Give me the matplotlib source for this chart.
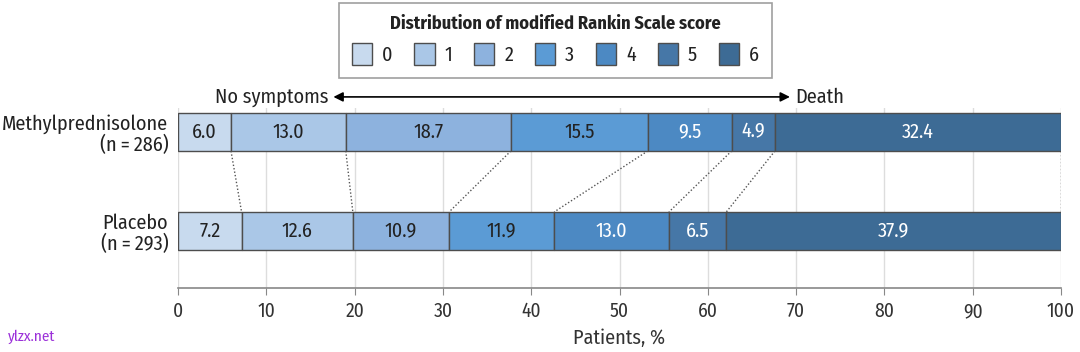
import matplotlib
matplotlib.use("Agg")
import matplotlib.pyplot as plt
import numpy as np

plt.rcParams['font.family'] = ['Fira Sans Condensed', 'DejaVu Sans']

groups = ["Methylprednisolone\n(n\u2009=\u2009286)", "Placebo\n(n\u2009=\u2009293)"]
scores = ["0", "1", "2", "3", "4", "5", "6"]
methyl = [6.0, 13.0, 18.7, 15.5, 9.5, 4.9, 32.4]
placebo = [7.2, 12.6, 10.9, 11.9, 13.0, 6.5, 37.9]
xticks = [0, 10, 20, 30, 40, 50, 60, 70, 80, 90, 100]

colors = ["#c8daee", "#aac7e7", "#8db2de", "#5b9bd5", "#4c89c3", "#4677a7", "#3d6b95"]
text_colors = ["#222222"] * 4 + ["white"] * 3

fig = plt.figure(figsize=(10.8, 3.52), dpi=100)
ax = fig.add_axes([178/1080, 1-288/352, (1061-178)/1080, (288-108)/352])

ypos = [1, 0]
h = 0.384
data = np.array([methyl, placebo])
left = np.zeros(2)
handles = []
for i, s in enumerate(scores):
    bars = ax.barh(ypos, data[:, i], left=left, height=h, color=colors[i],
                   edgecolor="#4d4d4d", linewidth=1.0, label=s, zorder=3)
    ax.bar_label(bars, labels=[f"{v:.1f}" for v in data[:, i]], label_type="center",
                 color=text_colors[i], fontsize=14.5)
    handles.append(bars)
    left = left + data[:, i]

cm = np.cumsum(methyl)
cp = np.cumsum(placebo)
for a, b in zip(cm, cp):
    ax.plot([a, b], [1 - h/2, h/2], ls=(0, (1, 1.5)), color="#555555", lw=1.0, zorder=2)

ax.set_xlim(0, 100)
ax.set_ylim(-0.576, 1.242)
ax.set_xticks(xticks)
ax.set_xticklabels([str(t) for t in xticks], fontsize=14, color="#333333")
ax.set_yticks(ypos)
ax.set_yticklabels(groups, fontsize=14.5, color="#222222", linespacing=1.05)
ax.tick_params(axis="y", length=0, pad=7)
ax.tick_params(axis="x", direction="out", length=5, color="#888888", pad=5)
for sp in ["top", "right", "left"]:
    ax.spines[sp].set_visible(False)
ax.spines["bottom"].set_color("#888888")
ax.spines["bottom"].set_linewidth(1.2)
ax.grid(axis="x", color="#dddddd", lw=1.0, zorder=0)
ax.set_axisbelow(True)
ax.set_xlabel("Patients, %", fontsize=14.5, color="#333333", labelpad=5)

# direction arrow
ax.annotate("", xy=(69.3, 1.354), xytext=(17.6, 1.354),
            arrowprops=dict(arrowstyle="<|-|>", color="black", lw=1.2,
                            mutation_scale=14, shrinkA=0, shrinkB=0),
            annotation_clip=False)
ax.text(17.0, 1.354, "No symptoms", ha="right", va="center", fontsize=14.6,
        color="#222222", clip_on=False)
ax.text(69.9, 1.354, "Death", ha="left", va="center", fontsize=14.6,
        color="#222222", clip_on=False)

leg = fig.legend(handles=handles, labels=scores, ncol=7, loc="upper center",
                 bbox_to_anchor=(555.5/1080, 1-3/352), frameon=True, fancybox=False,
                 fontsize=14.5, title="Distribution of modified Rankin Scale score",
                 title_fontproperties={"size": 13.2, "weight": "bold", "family": ["Fira Sans Condensed", "DejaVu Sans"]},
                 handlelength=1.0, handleheight=1.3, handletextpad=0.5,
                 columnspacing=1.08, borderpad=0.62, borderaxespad=0)
leg.get_frame().set_edgecolor("#888888")
leg.get_frame().set_linewidth(1.2)
for t in leg.get_texts():
    t.set_color("#222222")
leg.get_title().set_color("#222222")

fig.text(8/1080, 1-337/352, "ylzx.net", color="#9b30d9", fontsize=11, va="center")

fig.savefig("out.png", dpi=100)
